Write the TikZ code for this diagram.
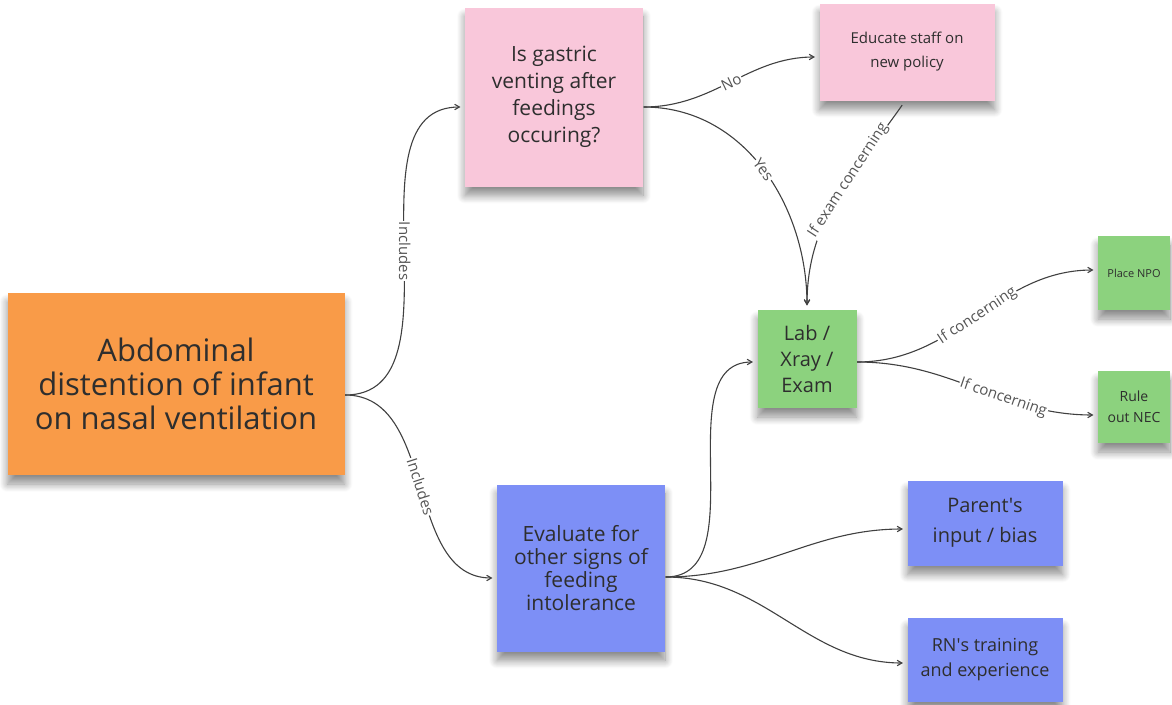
\documentclass[tikz,border=0pt]{standalone}
\usepackage{fontspec}
\setmainfont{Open Sans}
\usepackage{xcolor}
\usepackage{tikz}
\usetikzlibrary{arrows}
\usetikzlibrary{calc}
\usetikzlibrary{shadows.blur}

\definecolor{noteorange}{HTML}{F99B48}
\definecolor{notepink}{HTML}{F9C7DA}
\definecolor{notegreen}{HTML}{8CD27E}
\definecolor{noteblue}{HTML}{7D8FF6}
\definecolor{notetext}{HTML}{2E2E2E}
\definecolor{linkgray}{HTML}{555555}

\begin{document}
\begin{tikzpicture}[x=1pt,y=1pt,->,>=angle 60,shorten >=4pt,line width=1.1pt,draw=black!75]
	\tikzstyle{note}=[rectangle, align=center, text=notetext, inner sep=0pt,
		blur shadow={shadow xshift=0pt,shadow yshift=-9pt,shadow opacity=45,shadow blur radius=8pt,shadow blur steps=10}]
	\tikzstyle{lbl}=[fill=white, text=linkgray, font=\fontsize{15}{17}\selectfont, inner sep=1pt]
	\useasboundingbox (0,0) rectangle (1172,-704);

	\node[note, fill=noteorange, minimum width=337pt, minimum height=182pt, font=\fontsize{31}{34}\selectfont]
		(distention) at (176,-384) {Abdominal\\distention of infant\\on nasal ventilation};
	\node[note, fill=notepink, minimum width=178pt, minimum height=179pt, font=\fontsize{21}{27}\selectfont]
		(gastric) at (554,-97) {Is gastric\\venting after\\feedings\\occuring?};
	\node[note, fill=notepink, minimum width=175pt, minimum height=97pt, font=\fontsize{15}{24}\selectfont]
		(educate) at (907,-52) {Educate staff on\\new policy};
	\node[note, fill=notegreen, minimum width=99pt, minimum height=98pt, font=\fontsize{20}{26}\selectfont]
		(lab) at (807,-359) {Lab /\\Xray /\\Exam};
	\node[note, fill=notegreen, minimum width=72pt, minimum height=74pt, font=\fontsize{11}{14}\selectfont]
		(npo) at (1134,-273) {Place NPO};
	\node[note, fill=notegreen, minimum width=72pt, minimum height=72pt, font=\fontsize{14}{21}\selectfont]
		(nec) at (1134,-407) {Rule\\out NEC};
	\node[note, fill=noteblue, minimum width=168pt, minimum height=167pt, font=\fontsize{21}{23}\selectfont]
		(evaluate) at (581,-568) {Evaluate for\\other signs of\\feeding\\intolerance};
	\node[note, fill=noteblue, minimum width=155pt, minimum height=85pt, font=\fontsize{20}{30}\selectfont]
		(parent) at (985,-523) {Parent\textquotesingle s\\input / bias};
	\node[note, fill=noteblue, minimum width=155pt, minimum height=84pt, font=\fontsize{18}{25}\selectfont]
		(rn) at (985,-660) {RN\textquotesingle s training\\and experience};

	\path
		([yshift=-11pt]distention.east) edge[out=0,in=180] node[lbl,rotate=-90] {Includes} ([yshift=-10pt]gastric.west)
		([yshift=-11pt]distention.east) edge[out=0,in=180] node[lbl,sloped] {Includes} ([yshift=-10pt]evaluate.west)
		([yshift=-10pt]gastric.east) edge[out=0,in=180] node[lbl,sloped] {No} ([yshift=-5pt]educate.west)
		([yshift=-10pt]gastric.east) edge[out=0,in=90] node[lbl,sloped] {Yes} (lab.north)
		([xshift=-2pt]educate.south) edge[out=-125,in=90,shorten <=5pt] node[lbl,sloped,pos=.4] {If exam concerning} (lab.north)
		([yshift=-3pt]lab.east) edge[out=0,in=180] node[lbl,sloped] {If concerning} ([yshift=3pt]npo.west)
		([yshift=-3pt]lab.east) edge[out=0,in=180] node[lbl,sloped,pos=.62] {If concerning} ([yshift=-8pt]nec.west)
		([yshift=-9pt]evaluate.east) edge[out=0,in=180] ([yshift=-3pt]lab.west)
		([yshift=-9pt]evaluate.east) edge[out=0,in=180] ([yshift=-6pt]parent.west)
		([yshift=-9pt]evaluate.east) edge[out=0,in=180] ([yshift=-3pt]rn.west);
\end{tikzpicture}
\end{document}
